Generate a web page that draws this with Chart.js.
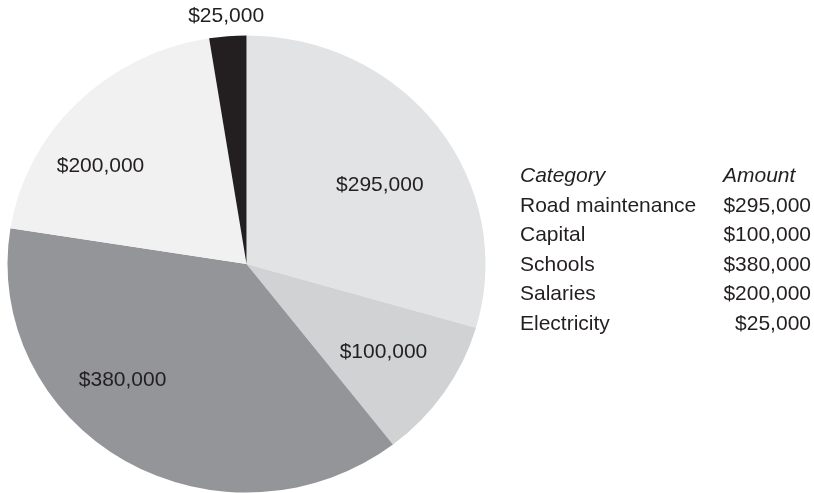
<!DOCTYPE html>
<html>
<head>
<meta charset="utf-8">
<script src="https://cdn.jsdelivr.net/npm/chart.js@4"></script>
<style>
  html, body { margin: 0; padding: 0; background: #fff; }
  .wrap { position: relative; width: 814px; height: 493px; }
  #budgetPie { position: absolute; left: 0; top: 0; }
  .budget-table {
    position: absolute; left: 520px; top: 160px;
    display: grid; grid-template-columns: 203px 88px;
    font-family: "Liberation Sans", Arial, sans-serif;
    font-size: 21px; line-height: 29.6px; color: #231f20;
  }
  .budget-table .head { font-style: italic; }
  .budget-table .amt { text-align: right; }
  .budget-table .head.amt { text-align: left; }
</style>
</head>
<body>
<div class="wrap">
  <canvas id="budgetPie" width="814" height="493"></canvas>
  <div class="budget-table" id="budgetTable"></div>
</div>
<script>
// ================== Budget data ==================
const categories = ['Road maintenance', 'Capital', 'Schools', 'Salaries', 'Electricity'];
const amounts = [295000, 100000, 380000, 200000, 25000];
const sliceColors = ['#e2e3e4', '#d1d2d4', '#939598', '#f1f1f2', '#231f20'];

// where each value label sits: fraction along the slice, fraction of the radius
const labelAlong = [0.55, 0.49, 0.61, 0.36, 0.5];
const labelRadius = [0.655, 0.69, 0.725, 0.745, 1.087];

const fmt = v => '$' + v.toLocaleString('en-US');

// ================== Category / Amount table ==================
const table = document.getElementById('budgetTable');
table.innerHTML = '<div class="head">Category</div><div class="head amt">Amount</div>' +
  categories.map((c, i) => `<div>${c}</div><div class="amt">${fmt(amounts[i])}</div>`).join('');

// pie is slightly wider than tall
const pieCenter = { x: 246.5, y: 264 };
const pieRadius = { x: 239, y: 228.5 };

const ellipsePlugin = {
  id: 'ellipsePie',
  beforeDatasetsDraw(chart) {
    const arc = chart.getDatasetMeta(0).data[0];
    const ctx = chart.ctx;
    ctx.save();
    ctx.translate(pieCenter.x, pieCenter.y);
    ctx.scale(pieRadius.x / arc.outerRadius, pieRadius.y / arc.outerRadius);
    ctx.translate(-arc.x, -arc.y);
  },
  afterDatasetsDraw(chart) {
    const ctx = chart.ctx;
    ctx.restore();
    ctx.save();
    ctx.font = '21px "Liberation Sans", Arial, sans-serif';
    ctx.fillStyle = '#231f20';
    ctx.textAlign = 'center';
    ctx.textBaseline = 'middle';
    chart.getDatasetMeta(0).data.forEach((arc, i) => {
      const a = arc.startAngle + labelAlong[i] * (arc.endAngle - arc.startAngle);
      const x = pieCenter.x + Math.cos(a) * labelRadius[i] * pieRadius.x;
      const y = pieCenter.y + Math.sin(a) * labelRadius[i] * pieRadius.y;
      ctx.fillText(fmt(amounts[i]), x, y);
    });
    ctx.restore();
  }
};

new Chart(document.getElementById('budgetPie'), {
  type: 'pie',
  data: {
    labels: categories,
    datasets: [{
      data: amounts,
      backgroundColor: sliceColors,
      borderWidth: 0,
      hoverOffset: 0,
      offset: 0
    }]
  },
  options: {
    responsive: false,
    animation: false,
    events: [],
    layout: { padding: { left: 7, right: 328, top: 7, bottom: 8 } },
    plugins: {
      legend: { display: false },
      tooltip: { enabled: false }
    }
  },
  plugins: [ellipsePlugin]
});
</script>
</body>
</html>
